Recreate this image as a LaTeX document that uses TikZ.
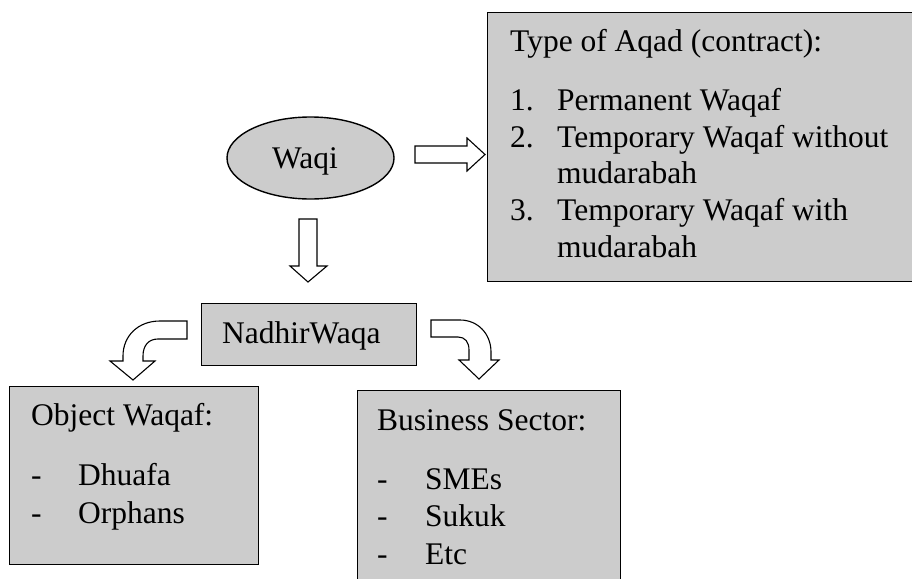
\documentclass[tikz,border=0pt]{standalone}
\usepackage{fontspec}
\setmainfont{Liberation Serif}
\usetikzlibrary{shapes.geometric}
\definecolor{boxgray}{RGB}{204,204,204}
\tikzset{
  box/.style={draw=black, line width=1.4pt, fill=boxgray, inner sep=0pt, anchor=north west},
  txt/.style={anchor=base west, inner sep=0pt, font=\fontsize{31.5}{36}\selectfont},
  blockarrow/.style={draw=black, line width=1.1pt, fill=white, line join=miter},
}
\begin{document}
\begin{tikzpicture}[x=1pt,y=-1pt]
\useasboundingbox (0,0) rectangle (912,578);
\clip (0,0) rectangle (912,578);
\fill[white] (0,0) rectangle (912,578);

% boxes
\node[box, minimum width=428pt, minimum height=269pt] (type) at (487,12) {};
\node[box, minimum width=215pt, minimum height=62pt] (nadhir) at (201,303) {};
\node[box, minimum width=249pt, minimum height=178pt] (object) at (9,386) {};
\node[box, minimum width=263pt, minimum height=215pt] (business) at (357,390) {};
\node[ellipse, draw=black, line width=1.4pt, fill=boxgray, inner sep=0pt,
      minimum width=167pt, minimum height=82pt] (waqi) at (310.5,158) {};

% texts
\node[txt] (waqit) at (272,168) {Waqi};
\node[txt] (nadhirt) at (222,343) {NadhirWaqa};

\node[txt] (t0) at (510,52) {Type of Aqad (contract):};
\node[txt] (n1) at (510,110) {1.};
\node[txt] (t1) at (557,110) {Permanent Waqaf};
\node[txt] (n2) at (510,147) {2.};
\node[txt] (t2) at (557,147) {Temporary Waqaf without};
\node[txt] (t2b) at (557,183) {mudarabah};
\node[txt] (n3) at (510,220) {3.};
\node[txt] (t3) at (557,220) {Temporary Waqaf with};
\node[txt] (t3b) at (557,257) {mudarabah};

\node[txt] (o0) at (31,425) {Object Waqaf:};
\node[txt] (od1) at (31,485) {-};
\node[txt] (o1) at (78,485) {Dhuafa};
\node[txt] (od2) at (31,523) {-};
\node[txt] (o2) at (78,523) {Orphans};

\node[txt] (b0) at (377,430) {Business Sector:};
\node[txt] (bd1) at (377,489) {-};
\node[txt] (b1) at (425,489) {SMEs};
\node[txt] (bd2) at (377,526) {-};
\node[txt] (b2) at (425,526) {Sukuk};
\node[txt] (bd3) at (377,564) {-};
\node[txt] (b3) at (425,564) {Etc};

% right block arrow: Waqi -> Type
\draw[blockarrow] (415,146) -- (467,146) -- (467,138) -- (485,154.5) -- (467,171)
  -- (467,163) -- (415,163) -- cycle;

% down block arrow: Waqi -> NadhirWaqa
\draw[blockarrow] (299,219) -- (317,219) -- (317,266) -- (327,266) -- (308,282)
  -- (290,266) -- (299,266) -- cycle;

% left curved arrow: NadhirWaqa -> Object Waqaf
\draw[blockarrow] (187,321) -- (160,321) .. controls (138,321) and (123,336) .. (123,356)
  -- (123,361) -- (110,361) -- (133,380) -- (155,361) -- (143,361) -- (143,356)
  .. controls (143,345) and (149,339) .. (158,339) -- (187,339) -- cycle;

% right curved arrow: NadhirWaqa -> Business Sector
\draw[blockarrow] (431,320) -- (460,320) .. controls (478,320) and (491,334) .. (491,352)
  -- (491,360) -- (499,360) -- (479,379) -- (459,360) -- (469,360) -- (469,350)
  .. controls (469,342) and (465,337) .. (458,337) -- (431,337) -- cycle;
\end{tikzpicture}
\end{document}
